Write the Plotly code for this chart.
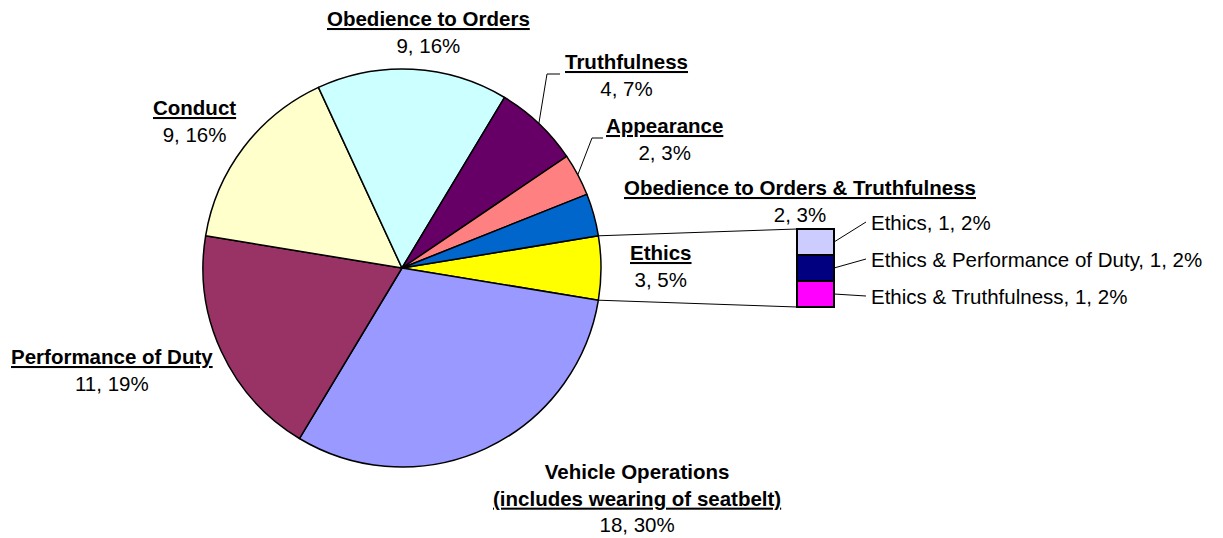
import math
import plotly.graph_objects as go

W, H = 1223, 538

# Main pie: complaint categories (counts and the printed share)
pie_labels = ["Ethics", "Vehicle Operations", "Performance of Duty", "Conduct",
              "Obedience to Orders", "Truthfulness", "Appearance",
              "Obedience to Orders & Truthfulness"]
pie_counts = [3, 18, 11, 9, 9, 4, 2, 2]
pie_pcts = ["5%", "30%", "19%", "16%", "16%", "7%", "3%", "3%"]
pie_colors = ["#FFFF00", "#9999FF", "#993366", "#FFFFCC",
              "#CCFFFF", "#660066", "#FF8080", "#0066CC"]

# Breakdown of the "Ethics" slice (top to bottom)
bar_labels = ["Ethics", "Ethics & Performance of Duty", "Ethics & Truthfulness"]
bar_counts = [1, 1, 1]
bar_pcts = ["2%", "2%", "2%"]
bar_colors = ["#CCCCFF", "#000080", "#FF00FF"]

FONT = "Liberation Sans, Arial, sans-serif"
FS = 20.5

# pie placement in pixels
cx, cy, r = 402, 268, 199
total = sum(pie_counts)
rotation = 90 - 180 * pie_counts[0] / total  # centre the Ethics slice at 3 o'clock

# stacked bar placement in pixels (plus padding so outlines are not clipped)
bx0, bx1, by0, by1 = 797, 834, 229, 307
pad = 6

fig = go.Figure()

fig.add_trace(go.Pie(
    labels=pie_labels, values=pie_counts, sort=False, direction="clockwise",
    rotation=rotation, textinfo="none", hoverinfo="skip", showlegend=False,
    marker=dict(colors=pie_colors, line=dict(color="black", width=1.5)),
    domain=dict(x=[(cx - r) / W, (cx + r) / W],
                y=[1 - (cy + r) / H, 1 - (cy - r) / H]),
))

# stacked bar, bottom segment first, each segment outlined in black
shapes = []
base = 0
for lab, val, col in reversed(list(zip(bar_labels, bar_counts, bar_colors))):
    fig.add_trace(go.Bar(
        x=[0], y=[val], width=1, name=lab, showlegend=False, hoverinfo="skip",
        marker=dict(color=col, line=dict(color="black", width=2)),
        xaxis="x2", yaxis="y2",
    ))
    shapes.append(dict(type="rect", xref="x2", yref="y2", x0=-0.5, x1=0.5,
                       y0=base, y1=base + val, line=dict(color="black", width=2),
                       fillcolor="rgba(0,0,0,0)", layer="above"))
    base += val


def edge(angle_deg, rad=r):
    a = math.radians(angle_deg)
    return cx + rad * math.sin(a), cy - rad * math.cos(a)


def seg(xs, ys):
    fig.add_trace(go.Scatter(x=xs, y=ys, mode="lines", line=dict(color="black", width=1),
                             hoverinfo="skip", showlegend=False, xaxis="x3", yaxis="y3"))


# slice boundary angles
bounds = [rotation]
for v in pie_counts:
    bounds.append(bounds[-1] + 360 * v / total)
mids = [(bounds[i] + bounds[i + 1]) / 2 for i in range(len(pie_counts))]

# connectors from the Ethics slice to the bar
p0 = edge(bounds[0])
p1 = edge(bounds[1])
seg([p0[0], bx0], [p0[1], by0])
seg([p1[0], bx0], [p1[1], by1])

# leader lines for small slices
tx, ty = edge(mids[5])
seg([tx, 547, 560], [ty, 74, 74])
ax_, ay_ = edge(mids[6])
seg([ax_, 592, 603], [ay_, 138, 138])

# bar label leaders
seg_h = (by1 - by0) / sum(bar_counts)
bar_label_y = [222, 259, 296]
for i, ly in enumerate(bar_label_y):
    sy = by0 + seg_h * (sum(bar_counts[:i]) + bar_counts[i] / 2)
    seg([bx1, 866], [sy, ly])

annotations = []


def label(x, y, text, anchor="center"):
    annotations.append(dict(x=x, y=y, xref="x3", yref="y3", text=text, showarrow=False,
                            xanchor=anchor, yanchor="middle", align=anchor,
                            font=dict(family=FONT, size=FS, color="black")))


def two(name, i):
    return f"<b><u>{name}</u></b><br>{pie_counts[i]}, {pie_pcts[i]}"


label(428, 31.5, two(pie_labels[4], 4))
label(626, 75, two(pie_labels[5], 5))
label(664, 138.5, two(pie_labels[6], 6))
label(800, 201, two(pie_labels[7], 7))
label(661, 265.5, two(pie_labels[0], 0))
label(194, 121, two(pie_labels[3], 3))
label(112, 370, two(pie_labels[2], 2))
label(637, 497.5, f"<b>{pie_labels[1]}</b><br><u><b>(includes wearing of seatbelt)</b></u><br>"
                  f"{pie_counts[1]}, {pie_pcts[1]}")

for lab, val, pct, ly in zip(bar_labels, bar_counts, bar_pcts, bar_label_y):
    label(869, ly, f"{lab}, {val}, {pct}", anchor="left")

# axis ranges extended by the padding so one data unit still spans the bar box
xu = 1 / (bx1 - bx0)
yu = sum(bar_counts) / (by1 - by0)
fig.update_layout(
    width=W, height=H, margin=dict(l=0, r=0, t=0, b=0),
    paper_bgcolor="white", plot_bgcolor="rgba(0,0,0,0)",
    barmode="stack", bargap=0,
    xaxis2=dict(domain=[(bx0 - pad) / W, (bx1 + pad) / W],
                range=[-0.5 - pad * xu, 0.5 + pad * xu], visible=False, fixedrange=True),
    yaxis2=dict(domain=[1 - (by1 + pad) / H, 1 - (by0 - pad) / H],
                range=[-pad * yu, sum(bar_counts) + pad * yu], visible=False,
                fixedrange=True, anchor="x2"),
    xaxis3=dict(domain=[0, 1], range=[0, W], visible=False, fixedrange=True, anchor="y3"),
    yaxis3=dict(domain=[0, 1], range=[H, 0], visible=False, fixedrange=True, anchor="x3"),
    annotations=annotations,
    shapes=shapes,
    font=dict(family=FONT, size=FS, color="black"),
)

fig.write_html("out.html")
